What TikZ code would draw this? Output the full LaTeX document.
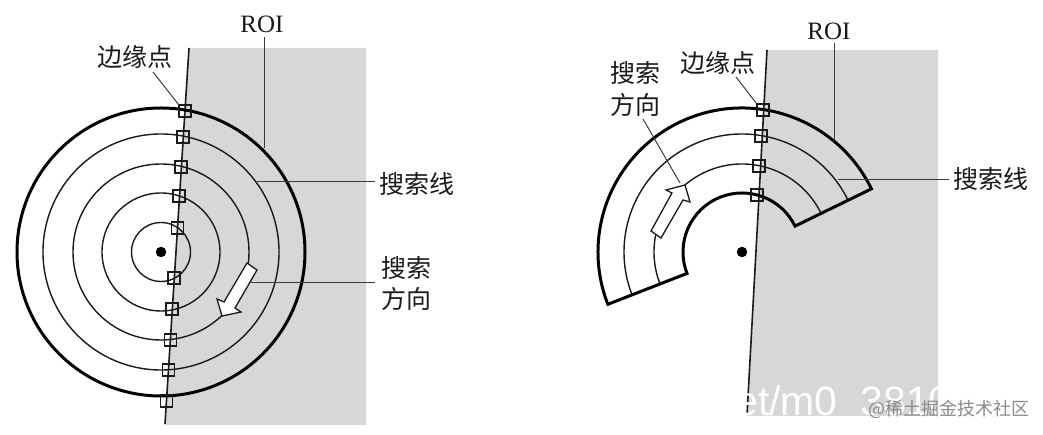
\documentclass[tikz,border=0pt]{standalone}
\usepackage{fontspec}
\setmainfont{Liberation Serif}
\newfontfamily\cjk{Noto Sans CJK SC}[Scale=1]
\newfontfamily\wmfont{Liberation Sans}
\definecolor{roi}{HTML}{D7D7D7}
\definecolor{ink}{HTML}{1A1A1A}
\definecolor{wm}{HTML}{8A8A8A}
\tikzset{
  roifill/.style={fill=roi,draw=none},
  edgeline/.style={draw=ink,line width=1.6pt},
  thin ring/.style={draw=ink,line width=1.4pt},
  thick ring/.style={draw=black,line width=3pt,line join=miter},
  pt box/.style={draw=ink,line width=1.2pt,minimum size=12pt,inner sep=0pt,rectangle},
  blockarrow/.style={fill=white,draw=ink,line width=1.3pt,line join=miter},
  leader/.style={draw=ink!85,line width=1pt},
  lab/.style={font=\cjk\fontsize{25}{25}\selectfont,text=ink,inner sep=0pt},
  roilab/.style={font=\fontsize{25}{25}\selectfont,text=ink,inner sep=0pt},
  dot/.style={circle,fill=black,minimum size=10.5pt,inner sep=0pt}
}
\begin{document}
\begin{tikzpicture}[x=1pt,y=1pt]
\useasboundingbox (0,0) rectangle (1043,435);
% ---------- left ----------
\fill[roifill] (189,387) -- (366,387) -- (366,10) -- (165,10) -- cycle;
\coordinate (Ltop) at (189,387);
\coordinate (Lbot) at (165,11);
\draw[edgeline] (Ltop) -- (Lbot);
\coordinate (Lc) at (161,183);
\draw[thick ring] (Lc) circle[radius=144];
\foreach \r in {118,88,59,29.5} \draw[thin ring] (Lc) circle[radius=\r];
\node[dot] (Ldot) at (Lc) {};
\node[pt box] (La) at (185,324) {};
\node[pt box] (Lb) at (183,298) {};
\node[pt box] (Lc1) at (181,268) {};
\node[pt box] (Ld) at (179,239) {};
\node[pt box] (Le) at (177.5,207) {};
\node[pt box] (Lf) at (174,157) {};
\node[pt box] (Lg) at (172,126) {};
\node[pt box] (Lh) at (170.5,95) {};
\node[pt box] (Li) at (168.5,65) {};
\node[pt box] (Lj) at (166.5,34) {};
\draw[blockarrow] (247,172) -- (257,165) -- (235,127) -- (241,123) -- (222,119) -- (217,136) -- (224,133) -- cycle;
\node[roilab] (LROI) at (262,411) {ROI};
\coordinate (Lr) at (264,287);
\draw[leader] (264,398) -- (Lr);
\node[lab] (Ledge) at (135,378) {边缘点};
\draw[leader] (153,363) -- (La.north west);
\node[lab,anchor=west] (Lline) at (379,251) {搜索线};
\coordinate (Ll) at (257,253);
\draw[leader] (Lline.west |- Ll) ++(-4,0) -- (Ll);
\node[lab,anchor=west] (Ld1) at (381,167) {搜索};
\node[lab,anchor=west] (Ld2) at (381,136) {方向};
\coordinate (Ldl) at (250,152);
\draw[leader] (375,152) -- (Ldl);
% ---------- right ----------
\fill[roifill] (767,385) -- (938,385) -- (938,19) -- (747,19) -- cycle;
\coordinate (Rtop) at (767,385);
\coordinate (Rbot) at (747,20);
\draw[edgeline] (Rtop) -- (Rbot);
\coordinate (Rc) at (742,183);
\draw[thin ring] ([shift={(26:118)}]Rc) arc[start angle=26,end angle=201,radius=118];
\draw[thin ring] ([shift={(26:88)}]Rc) arc[start angle=26,end angle=201,radius=88];
\draw[thick ring] ([shift={(26:144)}]Rc) arc[start angle=26,end angle=201.3,radius=144]
  -- ([shift={(201.3:59)}]Rc) arc[start angle=201.3,end angle=26,radius=59] -- cycle;
\node[dot] (Rdot) at (Rc) {};
\node[pt box] (Ra) at (763,325) {};
\node[pt box] (Rb) at (761,299) {};
\node[pt box] (Rc1) at (759,269) {};
\node[pt box] (Rd) at (757,240) {};
\draw[blockarrow] (651,204) -- (661,197) -- (683,235) -- (690,233) -- (685,250) -- (666,245) -- (672,242) -- cycle;
\node[roilab] (RROI) at (829,404) {ROI};
\coordinate (Rr) at (834,295);
\draw[leader] (834,392) -- (Rr);
\node[lab] (Redge) at (718,372) {边缘点};
\draw[leader] (736,358) -- (Ra.north west);
\node[lab,anchor=west] (Rline) at (953,256) {搜索线};
\coordinate (Rl) at (838,255);
\draw[leader] (949,255) -- (Rl);
\node[lab,anchor=west] (Rd1) at (610,362) {搜索};
\node[lab,anchor=west] (Rd2) at (610,330) {方向};
\coordinate (Rdl) at (680,252);
\draw[leader] (643,316) -- (Rdl);
% ---------- watermark ----------
\begin{scope}
\clip (725,19) rectangle (1043,60);
\node[anchor=base west,inner sep=0pt,text=white,font=\wmfont\fontsize{41}{41}\selectfont] (wm1) at (735,19) {et/m0\_3810};
\end{scope}
\node[anchor=west,inner sep=0pt,text=wm,font=\cjk\fontsize{18}{18}\selectfont] (wm2) at (868,26) {@稀土掘金技术社区};
\end{tikzpicture}
\end{document}
